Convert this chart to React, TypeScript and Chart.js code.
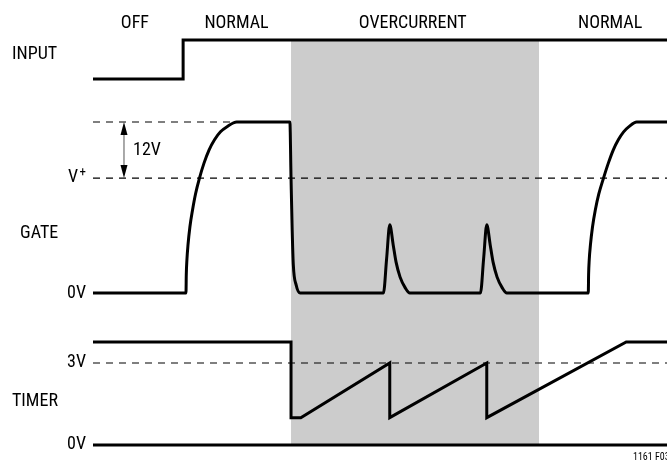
import React, { useEffect, useRef } from "react";
import { Chart, registerables } from "chart.js";

Chart.register(...registerables);

// ---------- data (time axis in arbitrary units, 0..100) ----------
const TIME_MIN = 0;
const TIME_MAX = 100;

// INPUT trace (logic level 0 / 1)
const inputT = [0, 15.7, 15.7, 100];
const inputV = [0, 0, 1, 1];

// GATE trace (volts)
const VPLUS = 24.6;
const GATE_HIGH = 36.6; // V+ + 12V
const gateT = [
  0, 16.2, 16.25, 16.36, 16.55, 16.88, 17.34, 17.86, 18.55, 19.34, 20.21, 21.17, 22.21, 23.35, 25.04,
  34.3, 34.5, 34.7, 34.9, 35.4, 36.1,
  50.6, 51.15, 51.7, 52.3, 52.8, 53.5, 54.4, 55.2,
  67.5, 68.05, 68.6, 69.2, 69.7, 70.4, 71.3, 72.1,
  86.29, 86.34, 86.45, 86.66, 87.02, 87.51, 88.12, 88.94, 89.78, 90.63, 91.52, 92.44, 93.38, 94.72, 100,
];
const gateV = [
  0, 0, 3.85, 7.07, 10.28, 14.13, 17.77, 21.2, 24.6, 27.8, 30.6, 32.8, 34.5, 35.6, 36.6,
  36.6, 24.6, 13.5, 6.0, 1.7, 0,
  0, 7.3, 14.6, 10.3, 6.6, 3.4, 1.1, 0,
  0, 7.3, 14.6, 10.3, 6.6, 3.4, 1.1, 0,
  0, 3.85, 7.07, 10.28, 14.13, 17.77, 21.2, 24.6, 27.8, 30.6, 32.8, 34.5, 35.6, 36.6, 36.6,
];
const gateTopDashT = [0, 24.4];

// TIMER trace (volts)
const TIMER_TRIP = 3;
const timerT = [0, 34.5, 34.5, 36.2, 51.7, 51.7, 68.6, 68.6, 92.9, 100];
const timerV = [3.77, 3.77, 1.0, 1.0, 3.0, 1.0, 3.0, 1.0, 3.77, 3.77];
const timerZeroT = [0, 100];

// overcurrent window
const overcurrentT = [34.5, 77.7];

// labels
const phaseLabels = ["OFF", "NORMAL", "OVERCURRENT", "NORMAL"];
const phaseCenters = [7.3, 25.0, 55.7, 90.1];
const ARROW_T = 5.4;
const FIG_ID = "1161 F03";

// ---------- trace placement on the common vertical scale (0..100) ----------
const INPUT_BASE = 82.9;
const INPUT_GAIN = 8.44;
const GATE_BASE = 36.58;
const GATE_GAIN = 1.0112;
const TIMER_BASE = 3.68;
const TIMER_GAIN = 5.917;

const toPts = (ts: number[], vs: number[], base: number, gain: number) =>
  ts.map((t, i) => ({ x: t, y: base + vs[i] * gain }));
const flat = (ts: number[], v: number, base: number, gain: number) =>
  ts.map((t) => ({ x: t, y: base + v * gain }));

const FONT = '"Liberation Sans Narrow", "Roboto Condensed", "Arial Narrow", "DejaVu Sans Condensed", sans-serif';

const labelPlugin = {
  id: "timingLabels",
  afterDraw(chart: any) {
    const { ctx, scales, chartArea } = chart;
    const xs = scales.x;
    const ys = scales.y;
    const left = chartArea.left;
    const Y = (base: number, gain: number, v: number) => ys.getPixelForValue(base + v * gain);
    ctx.save();
    ctx.fillStyle = "#000";
    ctx.textBaseline = "middle";
    ctx.font = `18px ${FONT}`;

    // phase labels
    ctx.textAlign = "center";
    phaseLabels.forEach((s, i) => ctx.fillText(s, xs.getPixelForValue(phaseCenters[i]), 23));

    // trace names
    ctx.textAlign = "left";
    ctx.fillText("INPUT", 12, (Y(INPUT_BASE, INPUT_GAIN, 0) + Y(INPUT_BASE, INPUT_GAIN, 1)) / 2 - 5);
    ctx.fillText("GATE", 20, Y(GATE_BASE, GATE_GAIN, 0) - 60);
    ctx.fillText("TIMER", 12, Y(TIMER_BASE, TIMER_GAIN, 0) - 43);

    // level labels
    ctx.textAlign = "right";
    ctx.fillText("0V", left - 7, Y(GATE_BASE, GATE_GAIN, 0));
    ctx.fillText("3V", left - 7, Y(TIMER_BASE, TIMER_GAIN, TIMER_TRIP));
    ctx.fillText("0V", left - 7, Y(TIMER_BASE, TIMER_GAIN, 0));
    const yv = Y(GATE_BASE, GATE_GAIN, VPLUS);
    ctx.fillText("V", left - 15, yv - 1);
    ctx.font = `13px ${FONT}`;
    ctx.fillText("+", left - 7, yv - 5);

    // 12V arrow
    const ax = xs.getPixelForValue(ARROW_T);
    const yTop = Y(GATE_BASE, GATE_GAIN, GATE_HIGH);
    const yBot = Y(GATE_BASE, GATE_GAIN, VPLUS);
    ctx.strokeStyle = "#555";
    ctx.lineWidth = 1;
    ctx.beginPath();
    ctx.moveTo(ax, yTop + 6);
    ctx.lineTo(ax, yBot - 6);
    ctx.stroke();
    ctx.fillStyle = "#000";
    ctx.beginPath();
    ctx.moveTo(ax, yTop);
    ctx.lineTo(ax - 3.5, yTop + 13);
    ctx.lineTo(ax + 3.5, yTop + 13);
    ctx.closePath();
    ctx.fill();
    ctx.beginPath();
    ctx.moveTo(ax, yBot);
    ctx.lineTo(ax - 3.5, yBot - 13);
    ctx.lineTo(ax + 3.5, yBot - 13);
    ctx.closePath();
    ctx.fill();
    ctx.font = `18px ${FONT}`;
    ctx.textAlign = "left";
    ctx.fillText("12V", ax + 9, (yTop + yBot) / 2);

    // figure id
    ctx.font = `10px ${FONT}`;
    ctx.fillText(FIG_ID, 633, 457);
    ctx.restore();
  },
};

export default function App() {
  const ref = useRef<HTMLCanvasElement | null>(null);

  useEffect(() => {
    if (!ref.current) return;
    const solid = {
      borderColor: "#000",
      borderWidth: 3,
      pointRadius: 0,
      fill: false,
      borderJoinStyle: "miter" as const,
    };
    const dashed = {
      borderColor: "#000",
      borderWidth: 1.2,
      borderDash: [7, 6],
      pointRadius: 0,
      fill: false,
      order: 5,
    };
    const shadeTop = INPUT_BASE + INPUT_GAIN;
    const chart = new Chart(ref.current, {
      type: "line",
      data: {
        datasets: [
          { ...solid, label: "INPUT", data: toPts(inputT, inputV, INPUT_BASE, INPUT_GAIN), tension: 0 },
          {
            ...solid,
            label: "GATE",
            data: toPts(gateT, gateV, GATE_BASE, GATE_GAIN),
            cubicInterpolationMode: "monotone",
          },
          { ...solid, label: "TIMER", data: toPts(timerT, timerV, TIMER_BASE, TIMER_GAIN), tension: 0 },
          { ...solid, label: "TIMER 0V", data: flat(timerZeroT, 0, TIMER_BASE, TIMER_GAIN), tension: 0 },
          { ...dashed, label: "GATE HIGH", data: flat(gateTopDashT, GATE_HIGH, GATE_BASE, GATE_GAIN) },
          { ...dashed, label: "V+", data: flat(timerZeroT, VPLUS, GATE_BASE, GATE_GAIN) },
          { ...dashed, label: "3V", data: flat(timerZeroT, TIMER_TRIP, TIMER_BASE, TIMER_GAIN) },
          {
            label: "OVERCURRENT",
            data: overcurrentT.map((t) => ({ x: t, y: shadeTop })),
            borderWidth: 0,
            borderColor: "rgba(0,0,0,0)",
            backgroundColor: "#cccccc",
            pointRadius: 0,
            fill: { value: TIMER_BASE },
            order: 10,
          },
        ] as any,
      },
      options: {
        animation: false,
        responsive: false,
        events: [],
        layout: { padding: { left: 93, right: 0, top: 0, bottom: 0 } },
        plugins: { legend: { display: false }, tooltip: { enabled: false }, title: { display: false } },
        scales: {
          x: { type: "linear", min: TIME_MIN, max: TIME_MAX, display: false },
          y: { type: "linear", min: 0, max: 100, display: false },
        },
      },
      plugins: [labelPlugin],
    });
    return () => chart.destroy();
  }, []);

  return (
    <div style={{ position: "absolute", left: 0, top: 0, width: 667, height: 462, background: "#fff" }}>
      <canvas ref={ref} width={667} height={462} />
    </div>
  );
}
